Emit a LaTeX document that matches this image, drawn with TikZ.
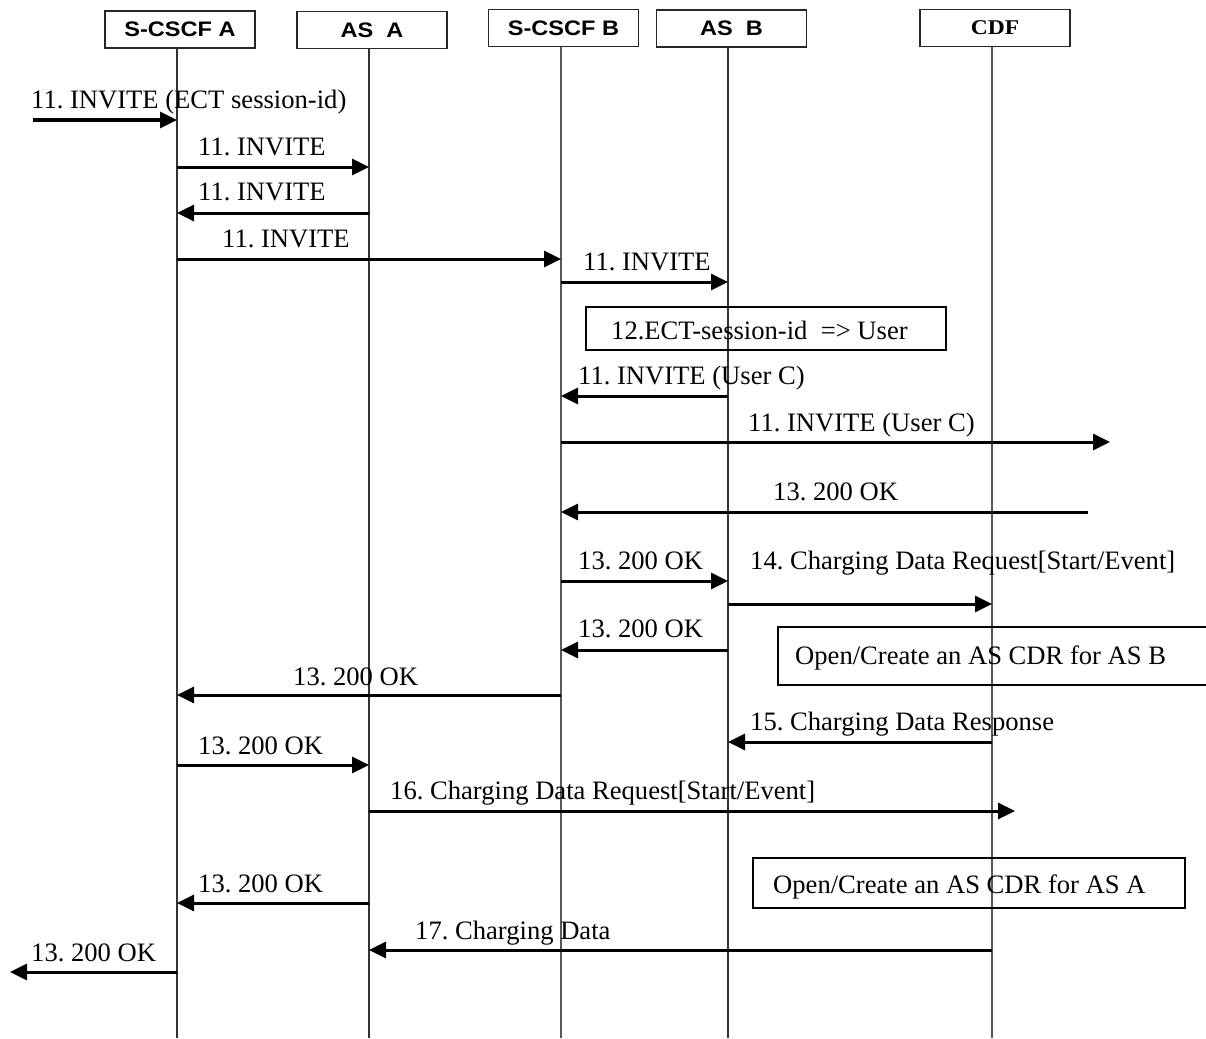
\documentclass[tikz,border=0pt]{standalone}
\usepackage{fontspec}
\usepackage{graphicx}
\setmainfont{Liberation Serif}
\newfontfamily\hsans{Liberation Sans}
\usetikzlibrary{arrows.meta}
\frenchspacing
\newcommand{\hwide}[1]{\scalebox{1.12}[1]{#1}}
\tikzset{
  head/.style={draw=black!85, line width=1.3pt, minimum width=150pt, minimum height=37pt, inner sep=0pt, font=\hsans\bfseries\fontsize{21}{24}\selectfont},
  headserif/.style={head, font=\bfseries\fontsize{21}{24}\selectfont},
  life/.style={line width=1.2pt, black!80},
  msg/.style={line width=3pt, -{Triangle[length=17pt,width=16pt]}},
  lbl/.style={anchor=base west, inner sep=0pt, font=\fontsize{26.6}{30}\selectfont},
  note/.style={draw, line width=1.6pt, inner sep=0pt, anchor=north west}
}
\begin{document}
\begin{tikzpicture}[x=1pt,y=-1pt]
\useasboundingbox (0,0) rectangle (1206,1038);
% header boxes
\node[head] (sa) at (180,29.5) {\hwide{S-CSCF A}};
\node[head] (aa) at (372,30) {\hwide{AS\ \ A}};
\node[head] (sb) at (563.5,28) {\hwide{S-CSCF B}};
\node[head] (ab) at (731.5,28.5) {\hwide{AS\ \ B}};
\node[headserif] (cdf) at (995,28) {\hwide{CDF}};
% lifeline ends
\coordinate (saE) at (177,1038);
\coordinate (aaE) at (369,1038);
\coordinate (sbE) at (561,1038);
\coordinate (abE) at (728,1038);
\coordinate (cdfE) at (992,1038);
\draw[life] (saE|-sa.south) -- (saE);
\draw[life] (aaE|-aa.south) -- (aaE);
\draw[life, black!65] (sbE|-sb.south) -- (sbE);
\draw[life] (abE|-ab.south) -- (abE);
\draw[life, black!65] (cdfE|-cdf.south) -- (cdfE);
% free ends
\coordinate (in1) at (33,120);
\coordinate (out8) at (1110,442);
\coordinate (in9) at (1088,512);
\coordinate (out21) at (10,972);
\coordinate (to17) at (1015,811);
% messages
\node[lbl] (l1) at (31,109) {11. INVITE (ECT session-id)};
\draw[msg] (in1) -- (saE|-in1);
\node[lbl] (l2) at (198,155) {11. INVITE};
\draw[msg] (saE|-0,167) -- (aaE|-0,167);
\node[lbl] (l3) at (198,200) {11. INVITE};
\draw[msg] (aaE|-0,213) -- (saE|-0,213);
\node[lbl] (l4) at (222,247) {11. INVITE};
\draw[msg] (saE|-0,259) -- (sbE|-0,259);
\node[lbl] (l5) at (583,270) {11. INVITE};
\draw[msg] (sbE|-0,282) -- (abE|-0,282);
\node[note, minimum width=360pt, minimum height=43pt] (n12) at (585,306) {};
\node[lbl] (l12) at (611,339) {12.ECT-session-id \ => User};
\node[lbl] (l7) at (578,384) {11. INVITE (User C)};
\draw[msg] (abE|-0,396) -- (sbE|-0,396);
\node[lbl] (l8) at (748,431) {11. INVITE (User C)};
\draw[msg] (sbE|-out8) -- (out8);
\node[lbl] (l9) at (773,500) {13. 200 OK};
\draw[msg] (in9) -- (sbE|-in9);
\node[lbl] (l10) at (578,569) {13. 200 OK};
\draw[msg] (sbE|-0,581) -- (abE|-0,581);
\node[lbl] (l11) at (750,569) {14. Charging Data Request[Start/Event]};
\draw[msg] (abE|-0,604) -- (cdfE|-0,604);
\node[lbl] (l13) at (578,637) {13. 200 OK};
\draw[msg] (abE|-0,650) -- (sbE|-0,650);
\node[note, minimum width=431pt, minimum height=58pt] (nB) at (777,626) {};
\node[lbl] (lB) at (795,664) {Open/Create an AS CDR for AS B};
\node[lbl] (l14) at (293,685) {13. 200 OK};
\draw[msg] (sbE|-0,695) -- (saE|-0,695);
\node[lbl] (l15) at (750,730) {15. Charging Data Response};
\draw[msg] (cdfE|-0,742) -- (abE|-0,742);
\node[lbl] (l16) at (198,754) {13. 200 OK};
\draw[msg] (saE|-0,765) -- (aaE|-0,765);
\node[lbl] (l17) at (390,799) {16. Charging Data Request[Start/Event]};
\draw[msg] (aaE|-to17) -- (to17);
\node[note, minimum width=432pt, minimum height=50pt] (nA) at (752,857) {};
\node[lbl] (lA) at (773,893) {Open/Create an AS CDR for AS A};
\node[lbl] (l19) at (198,892) {13. 200 OK};
\draw[msg] (aaE|-0,903) -- (saE|-0,903);
\node[lbl] (l20) at (415,939) {17. Charging Data};
\draw[msg] (cdfE|-0,950) -- (aaE|-0,950);
\node[lbl] (l21) at (31,961) {13. 200 OK};
\draw[msg] (saE|-out21) -- (out21);
\end{tikzpicture}
\end{document}
